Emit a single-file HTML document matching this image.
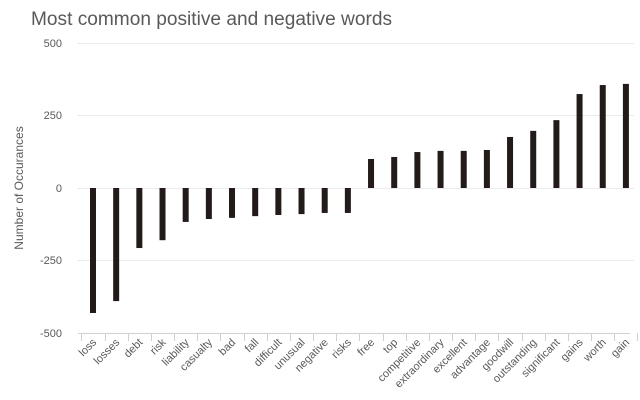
<!DOCTYPE html>
<html><head><meta charset="utf-8"><style>
body{margin:0;background:#fff;}
svg{display:block;font-family:"Liberation Sans",sans-serif;}
</style></head><body>
<svg width="640" height="400" xmlns="http://www.w3.org/2000/svg">
<text x="31" y="25" font-size="19" fill="#595959" textLength="361" lengthAdjust="spacingAndGlyphs">Most common positive and negative words</text>
<g stroke="#ebebeb" stroke-width="1">
<line x1="77" x2="634" y1="43.5" y2="43.5"/>
<line x1="77" x2="634" y1="115.5" y2="115.5"/>
<line x1="77" x2="634" y1="188.5" y2="188.5"/>
<line x1="77" x2="634" y1="260.5" y2="260.5"/>
</g>
<g font-size="11" fill="#595959" text-anchor="end">
<text x="62" y="47">500</text>
<text x="62" y="119">250</text>
<text x="62" y="192">0</text>
<text x="62" y="264">-250</text>
<text x="62" y="337">-500</text>
</g>
<text transform="translate(23,188) rotate(-90)" font-size="12" fill="#595959" text-anchor="middle">Number of Occurances</text>
<g id="ax" stroke="#d0d0d0" stroke-width="1"></g>
<g id="bars" fill="#231a1a"></g>
<g id="lab" font-size="11" fill="#595959" text-anchor="end"></g>
<script>
var names=["loss","losses","debt","risk","liability","casualty","bad","fall","difficult","unusual","negative","risks","free","top","competitive","extraordinary","excellent","advantage","goodwill","outstanding","significant","gains","worth","gain"];
var vals=[-431,-390,-207,-180,-117,-107,-103,-97,-93,-90,-86,-86,100,107,124,128,128,131,176,197,234,324,355,359];
var ns="http://www.w3.org/2000/svg",step=23.17,x0=93,z=188,k=0.29;
var ax=document.getElementById("ax"),b=document.getElementById("bars"),l=document.getElementById("lab");
function el(t,a,p){var e=document.createElementNS(ns,t);for(var q in a)e.setAttribute(q,a[q]);p.appendChild(e);return e;}
el("line",{x1:78,x2:630,y1:333.5,y2:333.5},ax);
for(var i=0;i<=24;i++){var tx=Math.round(x0-step/2+i*step)+0.5;el("line",{x1:tx,x2:tx,y1:333,y2:341},ax);}
for(var i=0;i<24;i++){var cx=x0+i*step,v=vals[i],h=Math.abs(v)*k;
el("rect",{x:cx-3,y:v>0?z-h:z,width:6,height:h},b);
var t=el("text",{transform:"translate("+(cx+4)+",343) rotate(-45)"},l);t.textContent=names[i];}
</script>
</svg>
</body></html>
